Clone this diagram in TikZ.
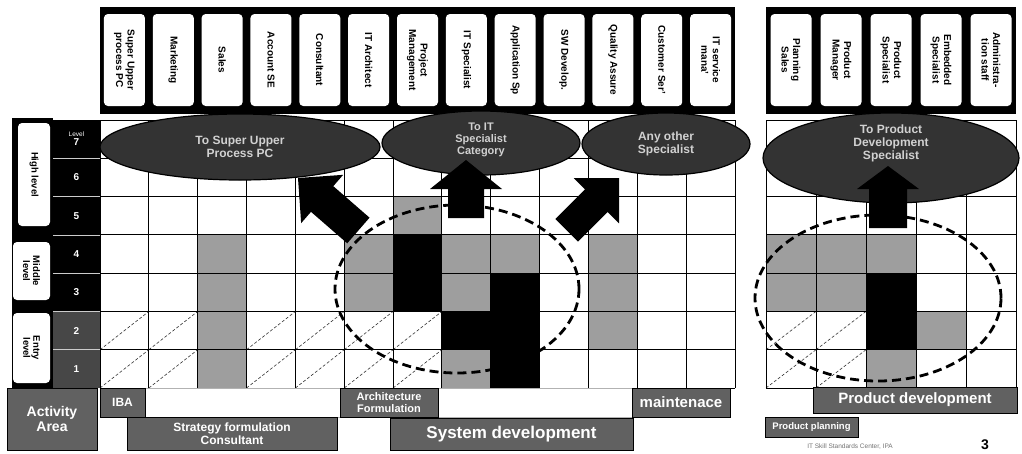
\documentclass[tikz,border=0pt]{standalone}
\usepackage{fontspec}
\setmainfont{Liberation Sans}
\usetikzlibrary{shapes.geometric}
\newcommand{\mcell}[3]{\fill[#3] ({100+(#1-1)*48.846},{120+(7-#2)*38.286}) rectangle ++(48.846,38.286);}
\newcommand{\rcell}[3]{\fill[#3] ({766+(#1-1)*50},{120+(7-#2)*38.286}) rectangle ++(50,38.286);}
\newcommand{\mdiag}[2]{\draw[diagl] ({100+(#1-1)*48.846},{120+(8-#2)*38.286}) -- ++(48.846,-38.286);}
\newcommand{\rdiag}[2]{\draw[diagl] ({766+(#1-1)*50},{120+(8-#2)*38.286}) -- ++(50,-38.286);}
\newcommand{\blkarrow}[7]{\begin{scope}[shift={(#1,#2)},rotate=#3]\fill[black] (0,0) -- (-#5,#6) -- (-#5,#7) -- (-#4,#7) -- (-#4,-#7) -- (-#5,-#7) -- (-#5,-#6) -- cycle;\end{scope}}
\begin{document}
\begin{tikzpicture}[x=1pt,y=-1pt,
  hdr/.style={rotate=-90, fill=white, rounded corners=4pt, minimum width=92pt, minimum height=41pt, inner sep=1pt, align=center, font=\fontsize{10}{11.5}\selectfont\bfseries},
  lvlbox/.style={rotate=-90, fill=white, rounded corners=4pt, inner sep=1pt, align=center, font=\fontsize{9.5}{10}\selectfont\bfseries},
  lvl/.style={text=white, align=center, font=\fontsize{10}{11}\selectfont\bfseries},
  ell/.style={ellipse, fill=black!80, draw=black, line width=1.2pt, inner sep=0pt},
  elltext/.style={align=center, text=white!82!black, font=\fontsize{12}{13}\selectfont\bfseries},
  dashell/.style={ellipse, draw=black, line width=2.8pt, dash pattern=on 9pt off 5pt, inner sep=0pt},
  lab/.style={fill=black!62, draw=black, line width=0.8pt, text=white, inner sep=0pt, align=center},
  gridl/.style={black, line width=0.9pt},
  diagl/.style={black!80, line width=0.6pt, dash pattern=on 3pt off 2pt},
  lgray/.style={black!38},
  dk/.style={black}]
\useasboundingbox (0,0) rectangle (1022,453);
\fill[white] (0,0) rectangle (1022,453);
% diagonals
\foreach \c in {1,2,4,5,6,7} {\mdiag{\c}{1}\mdiag{\c}{2}}
\foreach \c in {1,2} {\rdiag{\c}{1}\rdiag{\c}{2}}
% main grid cells
\mcell{3}{1}{lgray}\mcell{3}{2}{lgray}\mcell{3}{3}{lgray}\mcell{3}{4}{lgray}
\mcell{6}{3}{lgray}\mcell{6}{4}{lgray}
\mcell{7}{5}{lgray}
\mcell{8}{4}{lgray}\mcell{8}{3}{lgray}\mcell{8}{1}{lgray}
\mcell{9}{4}{lgray}
\mcell{11}{2}{lgray}\mcell{11}{3}{lgray}\mcell{11}{4}{lgray}
\mcell{7}{4}{dk}\mcell{7}{3}{dk}\mcell{8}{2}{dk}
\mcell{9}{3}{dk}\mcell{9}{2}{dk}\mcell{9}{1}{dk}
% right grid cells
\rcell{1}{4}{lgray}\rcell{1}{3}{lgray}\rcell{2}{4}{lgray}\rcell{2}{3}{lgray}
\rcell{3}{4}{lgray}\rcell{3}{1}{lgray}\rcell{4}{2}{lgray}
\rcell{3}{3}{dk}\rcell{3}{2}{dk}
% grid lines
\foreach \i in {0,...,13} \draw[gridl] ({100+\i*48.846},120) -- ({100+\i*48.846},388);
\foreach \j in {0,...,7} \draw[gridl] (100,{120+\j*38.286}) -- (735,{120+\j*38.286});
\foreach \i in {0,...,5} \draw[gridl] ({766+\i*50},120) -- ({766+\i*50},388);
\foreach \j in {0,...,7} \draw[gridl] (766,{120+\j*38.286}) -- (1016,{120+\j*38.286});
% header bands
\fill[black] (100,7) rectangle (735,114);
\fill[black] (766,7) rectangle (1016,114);
\foreach \t [count=\i] in {{Super Upper\\process PC},Marketing,Sales,Account SE,Consultant,IT Architect,{Project\\Management},IT Specialist,Application Sp,SW Develop.,Quality Assure,Customer Ser',{IT service\\mana'}}
  \node[hdr] (h\i) at ({100+(\i-0.5)*48.846},60) {\t};
\foreach \t [count=\i] in {{Planning\\Sales},{Product\\Manager},{Product\\Specialist},{Embedded\\Specialist},{Administra-\\tion staff}}
  \node[hdr] (r\i) at ({766+(\i-0.5)*50},60) {\t};
% left band
\fill[black] (12,118) rectangle (53,388);
\fill[black] (53,120) rectangle (100,312);
\fill[black!72] (53,312) rectangle (100,388);
\foreach \j in {1,...,6} \draw[white!80!black, line width=0.6pt] (53,{120+\j*38.286}) -- (100,{120+\j*38.286});
\node[lvlbox, minimum width=103pt, minimum height=32pt] (high) at (34,174.5) {High level};
\node[lvlbox, minimum width=58pt, minimum height=37pt] (mid) at (31.5,271) {Middle\\level};
\node[lvlbox, minimum width=70pt, minimum height=37pt] (entry) at (31.5,348) {Entry\\level};
\node[lvl] (l7) at (76.5,139.1) {{\fontsize{6.5}{7}\selectfont\mdseries Level}\\[-2pt]7};
\node[lvl] (l6) at (76.5,177.4) {6};
\node[lvl] (l5) at (76.5,215.7) {5};
\node[lvl] (l4) at (76.5,254) {4};
\node[lvl] (l3) at (76.5,292.3) {3};
\node[lvl] (l2) at (76.5,330.6) {2};
\node[lvl] (l1) at (76.5,368.9) {1};
% goal ellipses
\node[ell, minimum width=280pt, minimum height=66pt] (e1) at (240,147) {};
\node[ell, minimum width=198pt, minimum height=64pt] (e2) at (481,143) {};
\node[ell, minimum width=168pt, minimum height=62pt] (e3) at (666,144) {};
\node[ell, minimum width=256pt, minimum height=90pt] (e4) at (891,158) {};
\node[elltext] (t1) at (e1.center) {To Super Upper\\Process PC};
\node[elltext, font=\fontsize{11}{12}\selectfont\bfseries] (t2) at (481,140) {To IT\\Specialist\\Category};
\node[elltext] (t3) at (e3.center) {Any other\\Specialist};
\node[elltext] (t4) at (891,143) {To Product\\Development\\Specialist};
% block arrows
\blkarrow{298}{178}{139}{80}{32}{32}{17}
\blkarrow{466}{160}{90}{58}{29}{36}{18}
\blkarrow{619}{178}{45}{74}{32}{32}{16}
\blkarrow{888}{166}{90}{62}{23}{31}{19}
% dashed focus ellipses
\node[dashell, minimum width=244pt, minimum height=168pt] (f1) at (457,289) {};
\node[dashell, minimum width=246pt, minimum height=166pt] (f2) at (878,298) {};
% activity area labels
\draw[black!30, line width=0.5pt] (145,388) rectangle (340,417);
\draw[black!30, line width=0.5pt] (438,388) rectangle (632,417);
\node[lab, minimum width=90pt, minimum height=62pt, font=\fontsize{14}{15}\selectfont\bfseries] (act) at (52,419) {Activity\\Area};
\node[lab, minimum width=45pt, minimum height=29pt, font=\fontsize{12}{13}\selectfont\bfseries] (iba) at (122.5,402.5) {IBA};
\node[lab, minimum width=210pt, minimum height=33pt, font=\fontsize{12}{13}\selectfont\bfseries] (strat) at (232,433.5) {Strategy formulation\\Consultant};
\node[lab, minimum width=98pt, minimum height=29pt, font=\fontsize{11}{12}\selectfont\bfseries] (arch) at (389,402.5) {Architecture\\Formulation};
\node[lab, minimum width=98pt, minimum height=29pt, font=\fontsize{15}{16}\selectfont\bfseries] (maint) at (681,402.5) {maintenace};
\node[lab, minimum width=243pt, minimum height=32pt, font=\fontsize{17}{18}\selectfont\bfseries] (sysdev) at (511.5,434) {System development};
\node[lab, minimum width=204pt, minimum height=26pt, font=\fontsize{15}{16}\selectfont\bfseries] (proddev) at (915,400) {Product development};
\node[lab, minimum width=93pt, minimum height=20pt, font=\fontsize{9.5}{10}\selectfont\bfseries] (prodplan) at (811.5,427) {Product planning};
% footer
\node[text=black!55, font=\fontsize{6.5}{7}\selectfont] (foot) at (850,447) {IT Skill Standards Center, IPA};
\node[font=\fontsize{14}{15}\selectfont\bfseries] (page) at (985,445) {3};
\end{tikzpicture}
\end{document}
